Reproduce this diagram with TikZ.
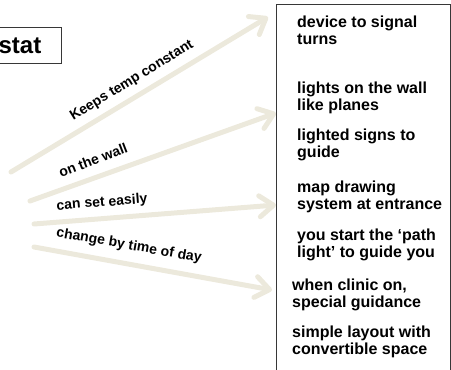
\documentclass[tikz,border=0pt]{standalone}
\usepackage{fontspec}
\setmainfont{Liberation Sans}
\usetikzlibrary{arrows.meta}
\definecolor{beige}{RGB}{236,233,220}
\definecolor{frame}{RGB}{55,55,55}
\tikzset{
  flow/.style={draw=beige, line width=5pt, line cap=round,
    -{Straight Barb[length=14pt,width=21pt,round]}},
  tag/.style={font=\fontsize{14}{16}\selectfont\bfseries, inner sep=0pt},
  idea/.style={font=\fontsize{16}{17}\selectfont\bfseries, align=left,
    anchor=north west, inner sep=0pt},
  panel/.style={draw=frame, line width=1.3pt, anchor=north west, inner sep=0pt}
}
\begin{document}
\begin{tikzpicture}[x=1pt,y=-1pt]
\useasboundingbox (0,0) rectangle (451,370);

% title box on the left
\node[panel, anchor=north east, minimum width=120pt, minimum height=36pt] (thermo) at (62,27) {};
\node[font=\fontsize{24}{26}\selectfont\bfseries, anchor=base east, inner sep=0pt] (thermotext) at (41.5,53) {stat};

% list of ideas on the right
\node[panel, minimum width=174pt, minimum height=380pt] (ideas) at (276,3.5) {};

% arrow end points
\coordinate (s1) at (11,172);  \coordinate (e1) at (268,17);
\coordinate (s2) at (30,201);  \coordinate (e2) at (276,113);
\coordinate (s3) at (34,224);  \coordinate (e3) at (276,205);
\coordinate (s4) at (34,247);  \coordinate (e4) at (272,290);

\draw[flow] (s1) -- (e1);
\draw[flow] (s2) -- (e2);
\draw[flow] (s3) -- (e3);
\draw[flow] (s4) -- (e4);

% arrow labels
\node[tag, rotate=31.5] (l1) at (132,81) {Keeps temp constant};
\node[tag, rotate=21] (l2) at (93,160) {on the wall};
\node[tag, rotate=4.5] (l3) at (102,203) {can set easily};
\node[tag, rotate=-10] (l4) at (129,246) {change by time of day};

% entries in the list
\node[idea] (i1) at (297,15.4) {device to signal\\turns};
\node[idea] (i2) at (297,81.4) {lights on the wall\\like planes};
\node[idea] (i3) at (297,128.4) {lighted signs to\\guide};
\node[idea] (i4) at (297,180.4) {map drawing\\system at entrance};
\node[idea] (i5) at (297,228.4) {you start the ‘path\\light’ to guide you};
\node[idea] (i6) at (292,278.4) {when clinic on,\\special guidance};
\node[idea] (i7) at (292,325.4) {simple layout with\\convertible space};
\end{tikzpicture}
\end{document}
